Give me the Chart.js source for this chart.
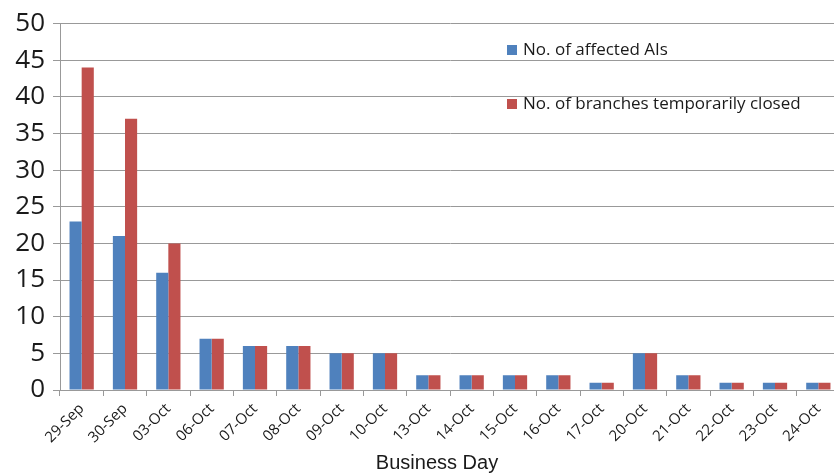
<!DOCTYPE html>
<html><head><meta charset="utf-8">
<script src="https://cdn.jsdelivr.net/npm/chart.js@4/dist/chart.umd.min.js"></script>
<style>html,body{margin:0;padding:0;overflow:hidden;background:#fff}#wrap{width:842px;height:475px;position:relative}</style>
</head><body><div id="wrap"><canvas id="c" width="842" height="475"></canvas></div>
<script>
const categories = ["29-Sep","30-Sep","03-Oct","06-Oct","07-Oct","08-Oct","09-Oct","10-Oct","13-Oct","14-Oct","15-Oct","16-Oct","17-Oct","20-Oct","21-Oct","22-Oct","23-Oct","24-Oct"];
const affectedAIs = [23,21,16,7,6,6,5,5,2,2,2,2,1,5,2,1,1,1];
const branchesClosed = [44,37,20,7,6,6,5,5,2,2,2,2,1,5,2,1,1,1];
const seriesNames = ["No. of affected AIs","No. of branches temporarily closed"];
const axisTitle = "Business Day";

const insideLegend = {
  id: 'insideLegend',
  afterDraw(chart, args, opts) {
    const ctx = chart.ctx;
    ctx.save();
    ctx.font = opts.font;
    ctx.textBaseline = 'middle';
    chart.data.datasets.forEach((ds, i) => {
      const y = opts.y + i * opts.gap;
      ctx.fillStyle = ds.backgroundColor;
      ctx.fillRect(opts.x, y - opts.box / 2, opts.box, opts.box);
      ctx.fillStyle = '#1a1a1a';
      ctx.fillText(ds.label, opts.x + opts.box + 6, y);
    });
    ctx.restore();
  }
};

const xTitle = {
  id: 'xTitle',
  afterDraw(chart, args, opts) {
    const ctx = chart.ctx;
    ctx.save();
    ctx.font = opts.font;
    ctx.fillStyle = '#1a1a1a';
    ctx.textAlign = 'center';
    ctx.textBaseline = 'alphabetic';
    ctx.fillText(opts.text, opts.x, opts.y);
    ctx.restore();
  }
};

new Chart(document.getElementById('c'), {
  type: 'bar',
  data: {
    labels: categories,
    datasets: [
      { label: seriesNames[0], data: affectedAIs, backgroundColor: '#4F81BD' },
      { label: seriesNames[1], data: branchesClosed, backgroundColor: '#C0504D' }
    ]
  },
  options: {
    responsive: false,
    animation: false,
    layout: { padding: { top: 23, right: 2, left: 0, bottom: 0 } },
    datasets: { bar: { categoryPercentage: 0.56, barPercentage: 1.0 } },
    plugins: {
      legend: { display: false },
      tooltip: { enabled: false },
      insideLegend: { x: 507, y: 50, gap: 54, box: 10, font: '17px "Open Sans"' },
      xTitle: { text: axisTitle, x: 437, y: 469, font: '20px "Liberation Sans"' }
    },
    scales: {
      x: {
        afterFit(s) { s.height = 85; },
        grid: { display: true, drawOnChartArea: false, offset: true, tickLength: 6, color: '#999' },
        border: { color: '#999' },
        ticks: { maxRotation: 45, minRotation: 45, padding: 4, color: '#1a1a1a', font: { family: 'Open Sans', size: 15 } }
      },
      y: {
        min: 0, max: 50,
        afterFit(s) { s.width = 60; },
        grid: { color: '#999', tickLength: 7 },
        border: { color: '#999' },
        ticks: { stepSize: 5, padding: 8, color: '#1a1a1a', font: { family: 'Open Sans', size: 26 } }
      }
    }
  },
  plugins: [insideLegend, xTitle]
});
</script>
</body></html>
